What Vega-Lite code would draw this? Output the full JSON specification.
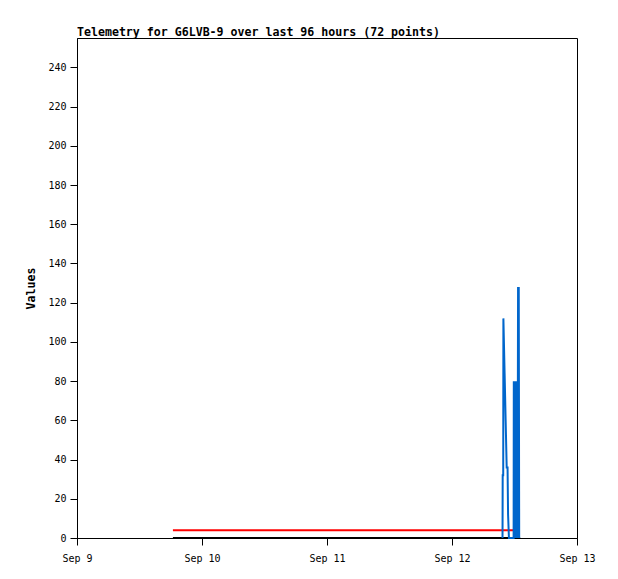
{
  "$schema": "https://vega.github.io/schema/vega-lite/v6.json",
  "width": 500,
  "height": 500,
  "autosize": "none",
  "padding": {"left": 77, "top": 38, "right": 41, "bottom": 41},
  "background": "white",
  "title": {
    "text": "Telemetry for G6LVB-9 over last 96 hours (72 points)",
    "anchor": "start",
    "frame": "group",
    "font": "DejaVu Sans Mono",
    "fontSize": 11.6,
    "fontWeight": "bold",
    "color": "black",
    "offset": -1
  },
  "config": {
    "view": {"stroke": "black", "strokeWidth": 1},
    "axis": {
      "grid": false,
      "domainColor": "black",
      "tickColor": "black",
      "labelColor": "black",
      "labelFont": "DejaVu Sans Mono",
      "labelFontSize": 10,
      "titleFont": "DejaVu Sans Mono",
      "titleFontSize": 11.6,
      "titleFontWeight": "bold",
      "titleColor": "black",
      "tickSize": 7
    }
  },
  "data": {
    "values": [
      {"t": "2024-09-09T18:25:00Z", "v": 0, "s": "black"},
      {"t": "2024-09-12T13:05:00Z", "v": 0, "s": "black"},
      {"t": "2024-09-09T18:25:00Z", "v": 4, "s": "red"},
      {"t": "2024-09-12T11:54:00Z", "v": 4, "s": "red"},
      {"t": "2024-09-12T09:42:00Z", "v": 0, "s": "blue"},
      {"t": "2024-09-12T09:44:00Z", "v": 32, "s": "blue"},
      {"t": "2024-09-12T09:50:00Z", "v": 32, "s": "blue"},
      {"t": "2024-09-12T09:52:00Z", "v": 112, "s": "blue"},
      {"t": "2024-09-12T10:06:00Z", "v": 84, "s": "blue"},
      {"t": "2024-09-12T10:18:00Z", "v": 60, "s": "blue"},
      {"t": "2024-09-12T10:30:00Z", "v": 36, "s": "blue"},
      {"t": "2024-09-12T10:40:00Z", "v": 36, "s": "blue"},
      {"t": "2024-09-12T10:46:00Z", "v": 12, "s": "blue"},
      {"t": "2024-09-12T10:56:00Z", "v": 0, "s": "blue"},
      {"t": "2024-09-12T11:50:00Z", "v": 0, "s": "blue"},
      {"t": "2024-09-12T11:52:00Z", "v": 80, "s": "blue"},
      {"t": "2024-09-12T11:56:00Z", "v": 0, "s": "blue"},
      {"t": "2024-09-12T12:00:00Z", "v": 80, "s": "blue"},
      {"t": "2024-09-12T12:04:00Z", "v": 0, "s": "blue"},
      {"t": "2024-09-12T12:08:00Z", "v": 80, "s": "blue"},
      {"t": "2024-09-12T12:12:00Z", "v": 0, "s": "blue"},
      {"t": "2024-09-12T12:16:00Z", "v": 80, "s": "blue"},
      {"t": "2024-09-12T12:20:00Z", "v": 0, "s": "blue"},
      {"t": "2024-09-12T12:24:00Z", "v": 80, "s": "blue"},
      {"t": "2024-09-12T12:28:00Z", "v": 0, "s": "blue"},
      {"t": "2024-09-12T12:32:00Z", "v": 80, "s": "blue"},
      {"t": "2024-09-12T12:36:00Z", "v": 0, "s": "blue"},
      {"t": "2024-09-12T12:39:00Z", "v": 80, "s": "blue"},
      {"t": "2024-09-12T12:41:00Z", "v": 128, "s": "blue"},
      {"t": "2024-09-12T12:45:00Z", "v": 0, "s": "blue"},
      {"t": "2024-09-12T12:49:00Z", "v": 128, "s": "blue"},
      {"t": "2024-09-12T12:54:00Z", "v": 0, "s": "blue"}
    ]
  },
  "encoding": {
    "x": {
      "field": "t",
      "type": "temporal",
      "scale": {"type": "utc", "domain": ["2024-09-09T00:00:00Z", "2024-09-13T00:00:00Z"]},
      "axis": {"title": null, "format": "%b %-d", "tickCount": 4, "labelPadding": 8, "labelFlush": false}
    },
    "y": {
      "field": "v",
      "type": "quantitative",
      "scale": {"domain": [0, 255], "nice": false},
      "axis": {"title": "Values", "values": [0, 20, 40, 60, 80, 100, 120, 140, 160, 180, 200, 220, 240], "labelPadding": 4, "titlePadding": 11}
    }
  },
  "layer": [
    {"transform": [{"filter": "datum.s === 'black'"}], "mark": {"type": "line", "color": "black", "strokeWidth": 2}},
    {"transform": [{"filter": "datum.s === 'red'"}], "mark": {"type": "line", "color": "#ff0000", "strokeWidth": 2}},
    {"transform": [{"filter": "datum.s === 'blue'"}], "mark": {"type": "line", "color": "#0066cc", "strokeWidth": 2}}
  ]
}
